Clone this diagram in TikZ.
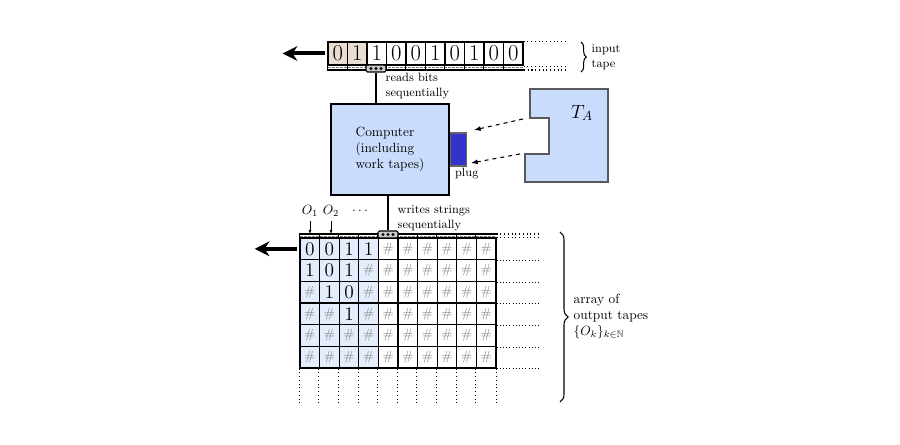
\documentclass[tikz,border=0pt]{standalone}
\usepackage{amssymb}
\usetikzlibrary{arrows.meta,positioning,decorations.pathreplacing}
\definecolor{compblue}{HTML}{C9DCFC}
\definecolor{cellblue}{HTML}{E4EDFC}
\definecolor{tapetan}{HTML}{E8DDD0}
\definecolor{plugblue}{HTML}{3333CC}
\newcommand{\hh}{\textcolor{gray}{\normalsize\#}}

\begin{document}
\begin{tikzpicture}[x=0.75pt,y=-0.75pt]
    \useasboundingbox (0,0) rectangle (900,445);
    \tikzstyle{cell}=[draw, line width=1pt, minimum width=14.6pt, minimum height=17.25pt, inner sep=0pt, font=\fontsize{17}{17}\selectfont]
    \tikzstyle{ocell}=[draw, line width=1pt, minimum width=14.7pt, minimum height=16.25pt, inner sep=0pt, font=\fontsize{14.5}{14.5}\selectfont]
    \tikzstyle{head}=[draw, thick, rounded corners=1pt, fill=gray!40, minimum width=15pt, minimum height=5.25pt, inner sep=0pt]
    \tikzstyle{comp}=[draw, thick, fill=compblue, minimum width=88.5pt, minimum height=68.25pt, align=left]
    \tikzstyle{plugbox}=[draw=gray!80!black, line width=1pt, fill=plugblue, minimum width=12pt, minimum height=24.75pt, inner sep=0pt]
    \tikzstyle{bigarrow}=[line width=3pt, -{Stealth[length=11pt,width=11pt]}]
    \tikzstyle{strip}=[gray, dash pattern=on 2pt off 1pt]

    % input tape
    \fill[tapetan] (328,42) rectangle (367,65);
    \foreach \b [count=\i from 0] in {0,1,1,0,0,1,0,1,0,0}
        \node[cell] (in\i) at (337.75+19.5*\i,53.5) {\b};
    \draw[thick] (in0.south west) -- (in9.south east);
    \draw[thick] (328,70) -- (524,70);
    \draw[strip] (328,67.5) -- (524,67.5);
    \foreach \i in {0,...,9}
        \draw (in\i.south west) -- ++(0,5);
    \draw[thick, dotted] (in9.north east) -- ++(42,0);
    \draw[thick, dotted] (in9.south east) ++(0,1) -- ++(42,0);
    \draw[thick, dotted] (524,70) -- ++(42,0);
    \draw[bigarrow] ([xshift=-2pt]in0.west) -- ++(-42,0);
    \draw[thick, decorate, decoration={brace, amplitude=4pt}] (581,42) -- (581,72);
    \node[font=\small, align=left, anchor=west] (intext) at (587,57) {input\\tape};

    % reading head and computer
    \node[head] (inhead) at (376,68.5) {};
    \foreach \d in {-5,0,5}
        \fill (inhead.center) ++(\d,0) circle (1.2pt);
    \node[comp] (comp) at (390,149.5) {Computer\\(including\\work tapes)};
    \draw[thick] (inhead.south) -- (inhead.south |- comp.north);
    \node[font=\small, align=left, anchor=west] (readtext) at (381,86) {reads bits\\sequentially};

    % plug and T_A
    \node[plugbox] (plug) [right=0pt of comp] {};
    \node[font=\small, anchor=north west, inner sep=1pt] (pluglabel) at ([xshift=3pt]plug.south west) {plug};
    \draw[line width=2pt, draw=gray!70!black, fill=compblue] (530,89) -- (608,89) -- (608,182) -- (525,182) -- (525,154) -- (549,154) -- (549,118) -- (530,118) -- cycle;
    \node (ta) at (582,113) {\Large $T_A$};
    \coordinate (ta1) at (523,119);
    \coordinate (ta2) at (520,154);
    \coordinate (pl1) at (474,130);
    \coordinate (pl2) at (471,163);
    \draw[thick, dashed, -{Latex[length=5pt]}] (ta1) -- (pl1);
    \draw[thick, dashed, -{Latex[length=5pt]}] (ta2) -- (pl2);

    % output tapes
    \fill[cellblue] (300,238) rectangle (378.4,368);
    \foreach \row [count=\i from 0] in {{0,0,1,1},{1,0,1,h},{h,1,0,h},{h,h,1,h},{h,h,h,h},{h,h,h,h}} {
        \foreach \b [count=\j from 0] in \row
            \node[ocell] (o-\i-\j) at (309.8+19.6*\j,248.83+21.67*\i) {\if h\b\hh\else\b\fi};
        \foreach \j in {4,...,9}
            \node[ocell] (o-\i-\j) at (309.8+19.6*\j,248.83+21.67*\i) {\hh};
        \draw[dotted] (o-\i-9.south east) -- ++(42,0);
    }
    \coordinate (outstrip) at (300,234);
    \draw[thick] (outstrip) -- (o-0-9.north east |- outstrip);
    \draw[strip] (300,236) -- (496,236);
    \foreach \j in {0,...,9}
        \draw (o-0-\j.north west) -- ++(0,-4);
    \draw[thick, dotted] (o-0-9.north east |- outstrip) -- ++(44,0);
    \draw[thick, dotted] (o-0-9.north east) -- ++(44,0);
    \foreach \j in {0,...,9}
        \draw[thick, dotted] (o-5-\j.south west) -- ++(0,37);
    \draw[thick, dotted] (o-5-9.south east) -- ++(0,37);
    \draw[bigarrow] ([xshift=-2pt]o-0-0.west) -- ++(-42,0);

    % writing head
    \node[head] (outhead) at (388,234.5) {};
    \foreach \d in {-5,0,5}
        \fill (outhead.center) ++(\d,0) circle (1.2pt);
    \draw[thick] (outhead.north) -- (outhead.north |- comp.south);
    \node[font=\small, align=left, anchor=west] (writetext) at (393,218.5) {writes strings\\sequentially};

    % tape names
    \node (o1) at (310,211) {$O_1$};
    \node (o2) at (331,211) {$O_2$};
    \node (odots) at (360,211) {$\dots$};
    \draw[-{Latex[length=3pt]}] (o1.south) -- (o1.south |- outstrip);
    \draw[-{Latex[length=3pt]}] (o2.south) -- (o2.south |- outstrip);

    \draw[thick, decorate, decoration={brace, amplitude=6pt}] (560,232) -- (560,402);
    \node[align=left, anchor=west] (outtext) at (569,316) {array of\\output tapes\\$\{O_k\}_{k\in\mathbb{N}}$};
\end{tikzpicture}
\end{document}
